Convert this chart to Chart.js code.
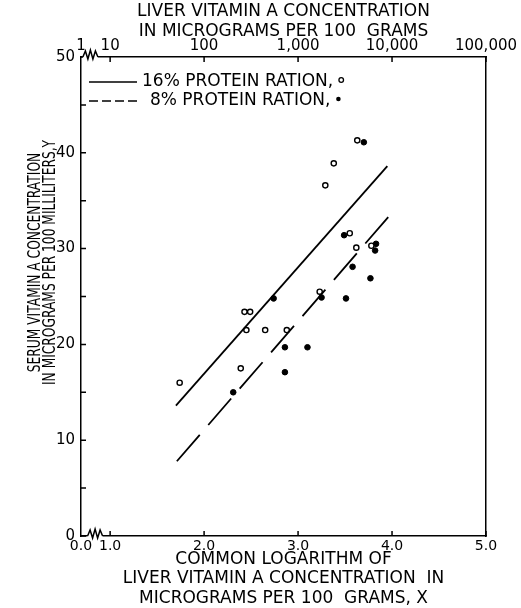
<!DOCTYPE html>
<html>
<head>
<meta charset="utf-8">
<script src="https://cdn.jsdelivr.net/npm/chart.js@4"></script>
<style>
  body { margin: 0; background: #fff; }
  canvas { display: block; }
</style>
</head>
<body>
<canvas id="vitaminChart" width="521" height="608"></canvas>
<script>
// values (x = log10 of liver vitamin A, y = serum vitamin A)
const openX = [1.74, 2.39, 2.43, 2.49, 2.45, 2.65, 2.88, 3.23, 3.29, 3.38, 3.55, 3.62, 3.63, 3.78];
const openY = [16.0, 17.5, 23.4, 23.4, 21.5, 21.5, 21.5, 25.5, 36.6, 38.9, 31.6, 30.1, 41.3, 30.3];
const filledX = [2.31, 2.74, 2.86, 2.86, 3.10, 3.25, 3.49, 3.51, 3.58, 3.70, 3.77, 3.82, 3.83];
const filledY = [15.0, 24.8, 19.7, 17.1, 19.7, 24.9, 31.4, 24.8, 28.1, 41.1, 26.9, 29.8, 30.5];

// fitted regression lines (end points)
const solidLineX = [1.70, 3.95];
const solidLineY = [13.6, 38.6];
const dashedLineX = [1.71, 3.96];
const dashedLineY = [7.8, 33.3];

const seriesNames = ["16% PROTEIN RATION,", "8% PROTEIN RATION,"];

// axes (both horizontal axes are broken near the left end)
const xMin = 0.69;
const xMax = 5.0;
const xTickValues = [xMin, 1, 2, 3, 4, 5];
const bottomTickLabels = ["0.0", "1.0", "2.0", "3.0", "4.0", "5.0"];
const topTickLabels = ["1", "10", "100", "1,000", "10,000", "100,000"];
const yTickValues = [0, 5, 10, 15, 20, 25, 30, 35, 40, 45, 50];
const yTickLabels = ["0", "", "10", "", "20", "", "30", "", "40", "", "50"];

const topTitle = ["LIVER VITAMIN A CONCENTRATION", "IN MICROGRAMS PER 100  GRAMS"];
const bottomTitle = ["COMMON LOGARITHM OF", "LIVER VITAMIN A CONCENTRATION  IN", "MICROGRAMS PER 100  GRAMS, X"];
const leftTitle = ["SERUM VITAMIN A CONCENTRATION", "IN MICROGRAMS PER 100 MILLILITERS,Y"];

const FONT = "DejaVu Sans";
Chart.defaults.font.family = FONT;
Chart.defaults.color = "#000";

const toPoints = (xs, ys) => xs.map((x, i) => ({ x: x, y: ys[i] }));

// small inward tick marks, axis breaks, y title and the legend
const decorations = {
    id: "decorations",
    afterDraw(chart) {
        const ctx = chart.ctx;
        const area = chart.chartArea;
        const sx = chart.scales.x, sy = chart.scales.y;
        const len = 5;
        ctx.save();
        ctx.strokeStyle = "#000";
        ctx.lineWidth = 1.5;
        ctx.beginPath();
        xTickValues.slice(1).forEach(v => {
            const px = sx.getPixelForValue(v);
            ctx.moveTo(px, area.bottom); ctx.lineTo(px, area.bottom - len);
            ctx.moveTo(px, area.top); ctx.lineTo(px, area.top + len);
        });
        yTickValues.forEach(v => {
            const py = sy.getPixelForValue(v);
            ctx.moveTo(area.left, py); ctx.lineTo(area.left + len, py);
        });
        ctx.stroke();

        // axis breaks
        const breakAt = (yy, v0, v1) => {
            const b0 = sx.getPixelForValue(v0), b1 = sx.getPixelForValue(v1);
            ctx.fillStyle = "#fff";
            ctx.fillRect(b0, yy - 1.5, b1 - b0, 3);
            ctx.beginPath();
            const w = (b1 - b0) / 6;
            ctx.moveTo(b0, yy);
            ctx.lineTo(b0 + w, yy - 6);
            ctx.lineTo(b0 + 2 * w, yy + 2);
            ctx.lineTo(b0 + 3 * w, yy - 7);
            ctx.lineTo(b0 + 4 * w, yy + 2);
            ctx.lineTo(b0 + 5 * w, yy - 6);
            ctx.lineTo(b1, yy);
            ctx.stroke();
        };
        breakAt(area.bottom, 0.76, 0.92);
        breakAt(area.top, 0.71, 0.87);

        // y axis title, lettering is narrow
        ctx.fillStyle = "#000";
        ctx.font = "17px '" + FONT + "'";
        ctx.textAlign = "center";
        ctx.textBaseline = "middle";
        const cy = (area.top + area.bottom) / 2 - 34;
        [area.left - 45.5, area.left - 30].forEach((cx, i) => {
            ctx.save();
            ctx.translate(cx, cy);
            ctx.rotate(-Math.PI / 2);
            ctx.scale(0.72, 1);
            ctx.fillText(leftTitle[i], 0, 0);
            ctx.restore();
        });

        // legend
        ctx.textAlign = "left";
        const lx0 = area.left + 8, lx1 = area.left + 56;
        const rows = [area.top + 25, area.top + 44];
        ctx.lineWidth = 1.6;
        rows.forEach((ly, i) => {
            ctx.setLineDash(i === 0 ? [] : [9, 4]);
            ctx.beginPath();
            ctx.moveTo(lx0, ly); ctx.lineTo(lx1, ly);
            ctx.stroke();
            ctx.setLineDash([]);
            const tx = i === 0 ? lx1 + 5 : lx1 + 13;
            ctx.fillText(seriesNames[i], tx, ly);
            const mx = tx + ctx.measureText(seriesNames[i]).width + 8;
            ctx.beginPath();
            ctx.arc(mx, ly - 2, 2.3, 0, Math.PI * 2);
            if (i === 0) { ctx.lineWidth = 1.3; ctx.stroke(); ctx.lineWidth = 1.6; }
            else ctx.fill();
        });
        ctx.restore();
    }
};

const hAxis = (pos, labels, boxHeight, title, titlePad) => ({
    type: "linear",
    position: pos,
    min: xMin,
    max: xMax,
    afterBuildTicks: s => { s.ticks = xTickValues.map(v => ({ value: v })); },
    afterFit: s => { s.height = boxHeight; s.paddingLeft = 0; s.paddingRight = 0; },
    grid: { display: false, drawTicks: false },
    border: { color: "#000", width: 1.5 },
    ticks: {
        autoSkip: false, maxRotation: 0, padding: 2,
        font: { size: pos === "top" ? 15 : 14 },
        callback: (v, i) => labels[i]
    },
    title: { display: true, text: title, font: { size: 17, lineHeight: 1.15 }, padding: titlePad }
});

new Chart(document.getElementById("vitaminChart"), {
    type: "scatter",
    data: {
        datasets: [
            {
                label: seriesNames[0],
                data: toPoints(solidLineX, solidLineY),
                showLine: true, borderColor: "#000", borderWidth: 1.8,
                pointRadius: 0
            },
            {
                label: seriesNames[1],
                data: toPoints(dashedLineX, dashedLineY),
                showLine: true, borderColor: "#000", borderWidth: 1.8,
                borderDash: [35, 13], pointRadius: 0
            },
            {
                label: seriesNames[0],
                data: toPoints(openX, openY),
                pointRadius: 2.6, pointBorderWidth: 1.4,
                borderColor: "#000", backgroundColor: "#fff"
            },
            {
                label: seriesNames[1],
                data: toPoints(filledX, filledY),
                pointRadius: 2.8, pointBorderWidth: 1,
                borderColor: "#000", backgroundColor: "#000"
            }
        ]
    },
    options: {
        responsive: false,
        animation: false,
        layout: { padding: 0 },
        plugins: { legend: { display: false }, tooltip: { enabled: false } },
        scales: {
            x: hAxis("bottom", bottomTickLabels, 72, bottomTitle, { top: 0, bottom: 0 }),
            x2: hAxis("top", topTickLabels, 57, topTitle, { top: 2, bottom: 0 }),
            y: {
                type: "linear",
                position: "left",
                min: 0,
                max: 50,
                afterBuildTicks: s => { s.ticks = yTickValues.map(v => ({ value: v })); },
                afterFit: s => { s.width = 81; s.paddingTop = 0; s.paddingBottom = 0; },
                grid: { display: false, drawTicks: false },
                border: { color: "#000", width: 1.5 },
                ticks: { padding: 6, font: { size: 15 }, callback: (v, i) => yTickLabels[i] }
            },
            y2: {
                type: "linear",
                position: "right",
                min: 0,
                max: 50,
                afterFit: s => { s.width = 35; s.paddingTop = 0; s.paddingBottom = 0; },
                grid: { display: false, drawTicks: false },
                border: { color: "#000", width: 1.5 },
                ticks: { display: false }
            }
        }
    },
    plugins: [decorations]
});
</script>
</body>
</html>
